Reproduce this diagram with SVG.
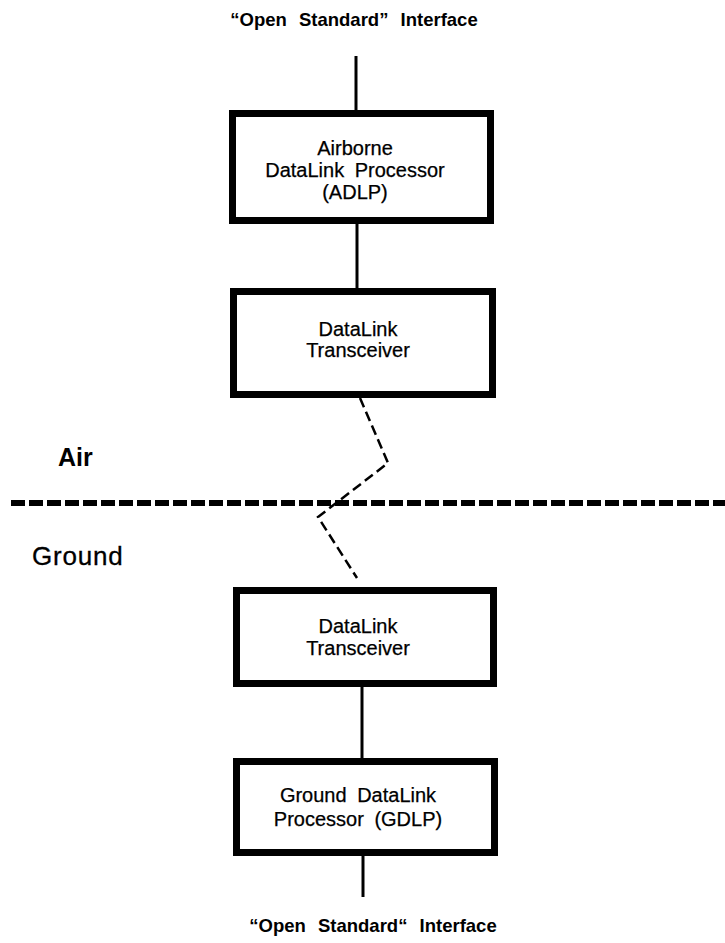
<svg xmlns="http://www.w3.org/2000/svg" width="725" height="943" viewBox="0 0 725 943">
<style>
.box{fill:#fff;stroke:#000;stroke-width:7}
.lbl{font-family:"Liberation Sans",Arial,sans-serif;font-size:20px;fill:#000;text-anchor:middle;word-spacing:5px;stroke:#000;stroke-width:0.25}
.ttl{font-family:"Liberation Sans",Arial,sans-serif;font-size:18.5px;font-weight:bold;fill:#000;text-anchor:middle;word-spacing:7px}
.conn{stroke:#000;stroke-width:3;fill:none}
.radio{stroke:#000;stroke-width:2.5;fill:none;stroke-dasharray:10 5}
.zone{font-family:"Liberation Sans",Arial,sans-serif;fill:#000}
</style>
<rect width="725" height="943" fill="#fff"/>
<g id="connectors">
<line class="conn" x1="356" y1="56" x2="356" y2="112"/>
<line class="conn" x1="357" y1="222" x2="357" y2="290"/>
<polyline class="radio" points="360,398 388,463 318,517 357,578"/>
<line class="conn" x1="362" y1="685" x2="362" y2="760"/>
<line class="conn" x1="363" y1="854" x2="363" y2="897"/>
</g>
<g id="air-ground-boundary">
<line x1="11" y1="503" x2="725" y2="503" stroke="#000" stroke-width="6" stroke-dasharray="14 4"/>
<text class="zone" x="58" y="466" font-size="25" font-weight="bold">Air</text>
<text class="zone" x="32" y="565" font-size="26" letter-spacing="0.8" stroke="#000" stroke-width="0.3">Ground</text>
</g>
<g id="title-top">
<text class="ttl" x="354" y="26">“Open Standard” Interface</text>
</g>
<g id="adlp">
<rect class="box" x="232.5" y="113.5" width="258" height="107"/>
<text class="lbl" x="355" y="155">Airborne</text>
<text class="lbl" x="355" y="177">DataLink Processor</text>
<text class="lbl" x="355" y="199">(ADLP)</text>
</g>
<g id="air-transceiver">
<rect class="box" x="233.5" y="291.5" width="259" height="103"/>
<text class="lbl" x="358" y="336">DataLink</text>
<text class="lbl" x="358" y="357">Transceiver</text>
</g>
<g id="ground-transceiver">
<rect class="box" x="236.5" y="590.5" width="257" height="93"/>
<text class="lbl" x="358" y="633">DataLink</text>
<text class="lbl" x="358" y="655">Transceiver</text>
</g>
<g id="gdlp">
<rect class="box" x="236.5" y="761.5" width="258" height="91"/>
<text class="lbl" x="358" y="802">Ground DataLink</text>
<text class="lbl" x="358" y="826">Processor (GDLP)</text>
</g>
<g id="title-bottom">
<text class="ttl" x="373" y="932">“Open Standard“ Interface</text>
</g>
</svg>
